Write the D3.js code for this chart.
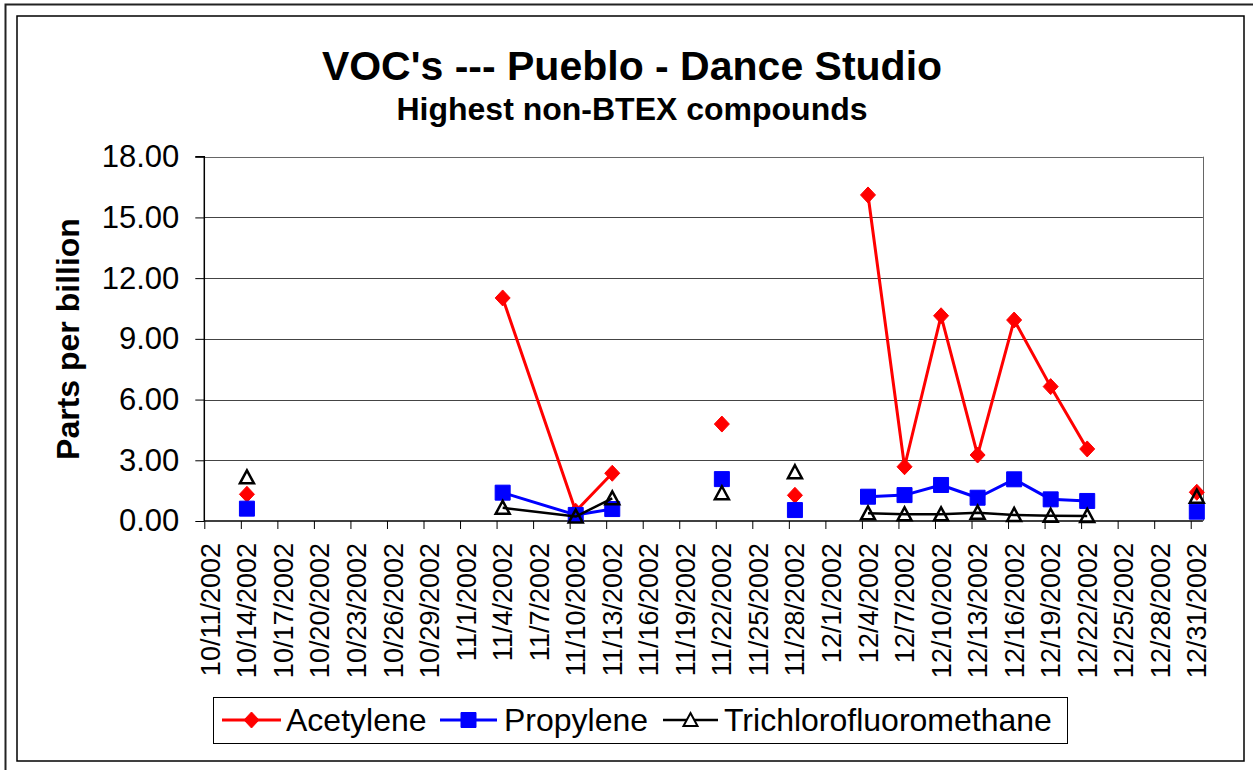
<!DOCTYPE html>
<html>
<head>
<meta charset="utf-8">
<script src="https://cdn.jsdelivr.net/npm/d3@7"></script>
<style>
  html, body { margin: 0; padding: 0; background: #fff; }
  svg { display: block; font-family: Arial, "Liberation Sans", sans-serif; }
</style>
</head>
<body>
<svg id="chart" width="1253" height="770"></svg>
<script>
// ---- data ----
const sampleDates = ["2002-10-14", "2002-11-04", "2002-11-10", "2002-11-13", "2002-11-22",
  "2002-11-28", "2002-12-04", "2002-12-07", "2002-12-10", "2002-12-13", "2002-12-16",
  "2002-12-19", "2002-12-22", "2002-12-31"];
// consecutive samples with the same segment id are joined by a line
const segments = [0, 1, 1, 1, 2, 3, 4, 4, 4, 4, 4, 4, 4, 5];
const acetylene = [1.32, 11.02, 0.48, 2.36, 4.79, 1.27, 16.11, 2.68, 10.14, 3.26, 9.93, 6.64, 3.56, 1.42];
const propylene = [0.61, 1.40, 0.30, 0.59, 2.07, 0.54, 1.20, 1.28, 1.78, 1.15, 2.06, 1.07, 0.99, 0.46];
const trichloro = [2.16, 0.65, 0.22, 1.12, 1.37, 2.41, 0.38, 0.33, 0.33, 0.41, 0.30, 0.26, 0.25, 1.20];
const seriesNames = ["Acetylene", "Propylene", "Trichlorofluoromethane"];
const yTicks = [0, 3, 6, 9, 12, 15, 18];
const xStart = "2002-10-11", xEnd = "2003-01-01", tickEveryDays = 3;
const titleText = "VOC's --- Pueblo - Dance Studio";
const subtitleText = "Highest non-BTEX compounds";
const yLabel = "Parts per billion";

// ---- setup ----
const parse = d3.utcParse("%Y-%m-%d");
const svg = d3.select("#chart");
const W = 1253, H = 770;
const plot = { left: 204.3, right: 1202.9, top: 156.7, bottom: 521 };

svg.append("rect").attr("width", W).attr("height", H).attr("fill", "#fff");
// outer frame
svg.append("path").attr("d", `M5.5,${H} V4.5 H${W}`).attr("fill", "none").attr("stroke", "#222").attr("stroke-width", 2);
svg.append("rect").attr("x", 17).attr("y", 16).attr("width", 1227).attr("height", 745)
  .attr("fill", "none").attr("stroke", "#000").attr("stroke-width", 1.5);

const x = d3.scaleUtc().domain([parse(xStart), parse(xEnd)]).range([plot.left, plot.right]);
const y = d3.scaleLinear().domain([0, 18]).range([plot.bottom, plot.top]);
const halfDay = 12 * 3600 * 1000;
const xc = d => x(new Date(d.getTime() + halfDay));

// gridlines
svg.append("g").selectAll("line").data(yTicks.filter(t => t > 0)).join("line")
  .attr("x1", plot.left).attr("x2", plot.right)
  .attr("y1", d => Math.round(y(d)) + 0.5).attr("y2", d => Math.round(y(d)) + 0.5)
  .attr("stroke", d => d === 18 ? "#666" : "#444").attr("stroke-width", 1);
// right border
svg.append("line").attr("x1", Math.round(plot.right) + 0.5).attr("x2", Math.round(plot.right) + 0.5)
  .attr("y1", y(18)).attr("y2", plot.bottom).attr("stroke", "#666");

// y axis
const yAxis = d3.axisLeft(y).tickValues(yTicks).tickFormat(d3.format(".2f")).tickSize(9).tickPadding(16);
const gy = svg.append("g").attr("transform", `translate(${plot.left},0)`).call(yAxis);
gy.select(".domain").attr("stroke", "#000").attr("stroke-width", 1.5).attr("d", `M-9,${plot.top}H0V${plot.bottom}`);
gy.selectAll(".tick line").attr("stroke", "#000");
gy.selectAll(".tick text").attr("font-size", 31).attr("fill", "#000").attr("font-family", "Arial, 'Liberation Sans', sans-serif");

// x axis
const xTickDates = d3.utcDay.range(parse(xStart), d3.utcDay.offset(parse(xEnd), 0), 1)
  .filter((d, i) => i % tickEveryDays === 0);
const xAxis = d3.axisBottom(x).tickValues(xTickDates).tickSize(8).tickFormat("");
const gx = svg.append("g").attr("transform", `translate(0,${plot.bottom})`).call(xAxis);
gx.select(".domain").attr("stroke", "#000").attr("stroke-width", 1.5).attr("d", `M${plot.left},0H${plot.right}`);
gx.selectAll(".tick line").attr("stroke", "#000");
const fmt = d => `${d.getUTCMonth() + 1}/${d.getUTCDate()}/${d.getUTCFullYear()}`;
svg.append("g").selectAll("text").data(xTickDates).join("text")
  .attr("transform", d => `translate(${xc(d) + 9.5},${plot.bottom + 22}) rotate(-90)`)
  .attr("text-anchor", "end").attr("font-size", 27).attr("fill", "#000")
  .text(fmt);

// titles
svg.append("text").attr("x", 632).attr("y", 80).attr("text-anchor", "middle")
  .attr("font-size", 41).attr("font-weight", "bold").text(titleText);
svg.append("text").attr("x", 632).attr("y", 120).attr("text-anchor", "middle")
  .attr("font-size", 32).attr("font-weight", "bold").text(subtitleText);
svg.append("text").attr("transform", `translate(79,339) rotate(-90)`).attr("text-anchor", "middle")
  .attr("font-size", 32).attr("font-weight", "bold").text(yLabel);

// series
const dates = sampleDates.map(parse);
const series = [
  { name: seriesNames[0], values: acetylene, color: "#FF0000", width: 3, marker: "diamond" },
  { name: seriesNames[1], values: propylene, color: "#0000FF", width: 3, marker: "square" },
  { name: seriesNames[2], values: trichloro, color: "#000000", width: 2.5, marker: "triangle" }
];
const markerPath = {
  diamond: "M0,-8L7.5,0L0,8L-7.5,0Z",
  square: "M-7.5,-7.5H7.5V7.5H-7.5Z",
  triangle: "M0,-7L7,6H-7Z"
};
const line = d3.line().x(d => xc(d.date)).y(d => y(d.v));
series.forEach(s => {
  const pts = dates.map((d, i) => ({ date: d, v: s.values[i], seg: segments[i] }));
  const groups = d3.groups(pts, p => p.seg).map(g => g[1]).filter(g => g.length > 1);
  const g = svg.append("g");
  g.selectAll("path.l").data(groups).join("path").attr("class", "l")
    .attr("d", line).attr("fill", "none").attr("stroke", s.color).attr("stroke-width", s.width)
    .attr("stroke-linejoin", "round");
  g.selectAll("path.m").data(pts).join("path").attr("class", "m")
    .attr("transform", p => `translate(${xc(p.date)},${y(p.v)})`)
    .attr("d", markerPath[s.marker])
    .attr("fill", s.marker === "triangle" ? "none" : s.color)
    .attr("stroke", s.color).attr("stroke-width", s.marker === "triangle" ? 2.5 : 1);
});

// legend
const lg = svg.append("g");
lg.append("rect").attr("x", 213.5).attr("y", 697.5).attr("width", 854).attr("height", 46)
  .attr("fill", "#fff").attr("stroke", "#000").attr("stroke-width", 1);
const legendItems = [
  { s: series[0], x0: 222, x1: 281, tx: 286 },
  { s: series[1], x0: 440, x1: 497, tx: 504 },
  { s: series[2], x0: 663, x1: 718, tx: 724 }
];
legendItems.forEach(it => {
  const cy = 720;
  lg.append("line").attr("x1", it.x0).attr("x2", it.x1).attr("y1", cy).attr("y2", cy)
    .attr("stroke", it.s.color).attr("stroke-width", it.s.width);
  lg.append("path").attr("transform", `translate(${(it.x0 + it.x1) / 2},${cy})`)
    .attr("d", markerPath[it.s.marker])
    .attr("fill", it.s.marker === "triangle" ? "#fff" : it.s.color)
    .attr("stroke", it.s.color).attr("stroke-width", it.s.marker === "triangle" ? 2 : 1);
  lg.append("text").attr("x", it.tx).attr("y", cy + 11).attr("font-size", 32).text(it.s.name);
});
</script>
</body>
</html>
